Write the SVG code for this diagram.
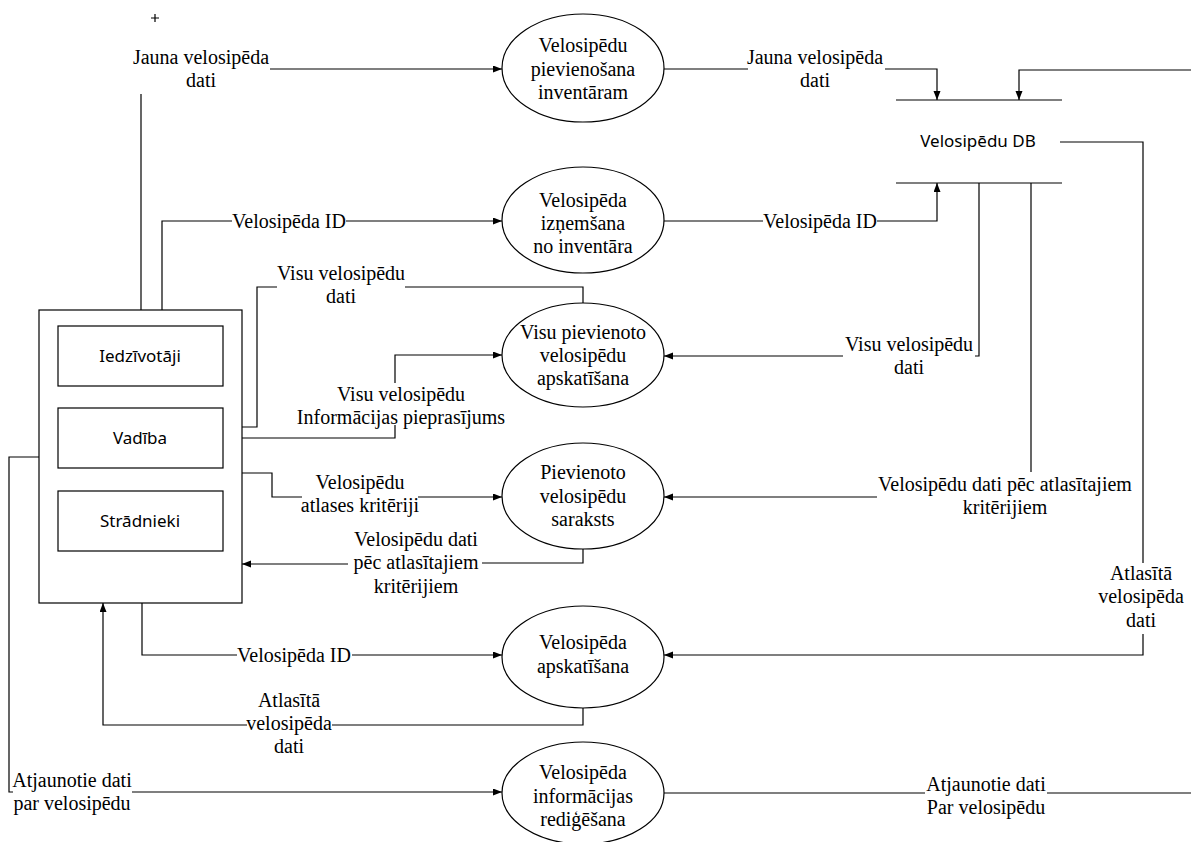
<svg xmlns="http://www.w3.org/2000/svg" width="1191" height="842" viewBox="0 0 1191 842">
<style>
.bg{fill:#fff}
.ln{fill:none;stroke:#000;stroke-width:1.2}
.el{fill:#fff;stroke:#000;stroke-width:1.2}
.bx{fill:#fff;stroke:#000;stroke-width:1.2}
.t{font-family:"Liberation Serif","Times New Roman",serif;font-size:20px;fill:#000;text-anchor:middle}
.s{font-family:"Noto Sans","Open Sans",sans-serif;font-size:17px;fill:#000;text-anchor:middle}
</style>
<defs>
<marker id="ar" markerUnits="userSpaceOnUse" markerWidth="10" markerHeight="8" refX="9" refY="3.5" orient="auto">
<path d="M0,0 L9,3.5 L0,7 z" fill="#000"/>
</marker>
</defs>
<rect class="bg" x="0" y="0" width="1191" height="842"/>
<path class="ln" d="M151,18 H159 M155,14 V22"/>

<g id="connectors">
<path class="ln" d="M141,310 V94"/>
<path class="ln" d="M270,69 H502" marker-end="url(#ar)"/>
<path class="ln" d="M664,69 H748"/>
<path class="ln" d="M885,69 H937 V100" marker-end="url(#ar)"/>
<path class="ln" d="M1191,70 H1019 V100" marker-end="url(#ar)"/>
<path class="ln" d="M162,310 V221 H232"/>
<path class="ln" d="M346,221 H502" marker-end="url(#ar)"/>
<path class="ln" d="M664,221 H763"/>
<path class="ln" d="M877,221 H937 V183" marker-end="url(#ar)"/>
<path class="ln" d="M583,303 V287 H405"/>
<path class="ln" d="M277,287 H257 V427 H223" marker-end="url(#ar)"/>
<path class="ln" d="M223,438 H395 V425"/>
<path class="ln" d="M395,383 V355 H502" marker-end="url(#ar)"/>
<path class="ln" d="M979,183 V356 H975"/>
<path class="ln" d="M843,356 H664" marker-end="url(#ar)"/>
<path class="ln" d="M242,473 H272 V497 H302"/>
<path class="ln" d="M418,497 H502" marker-end="url(#ar)"/>
<path class="ln" d="M1031,183 V472"/>
<path class="ln" d="M877,497 H664" marker-end="url(#ar)"/>
<path class="ln" d="M583,549 V563 H482"/>
<path class="ln" d="M348,564 H242" marker-end="url(#ar)"/>
<path class="ln" d="M1060,142 H1143 V563"/>
<path class="ln" d="M1143,634 V655 H664" marker-end="url(#ar)"/>
<path class="ln" d="M142,603 V655 H237"/>
<path class="ln" d="M352,655 H502" marker-end="url(#ar)"/>
<path class="ln" d="M583,708 V725 H332"/>
<path class="ln" d="M247,725 H103 V603" marker-end="url(#ar)"/>
<path class="ln" d="M39,457 H9 V792 H13"/>
<path class="ln" d="M132,792 H502" marker-end="url(#ar)"/>
<path class="ln" d="M664,793 H925"/>
<path class="ln" d="M1047,793 H1191"/>
</g>

<g id="labels">
<text class="t" x="201" y="64">Jauna velosipēda</text>
<text class="t" x="201" y="87">dati</text>
<text class="t" x="815" y="64">Jauna velosipēda</text>
<text class="t" x="815" y="87">dati</text>
<text class="t" x="289" y="228">Velosipēda ID</text>
<text class="t" x="820" y="228">Velosipēda ID</text>
<text class="t" x="341" y="280">Visu velosipēdu</text>
<text class="t" x="341" y="303">dati</text>
<text class="t" x="401" y="401">Visu velosipēdu</text>
<text class="t" x="401" y="424">Informācijas pieprasījums</text>
<text class="t" x="909" y="351">Visu velosipēdu</text>
<text class="t" x="909" y="374">dati</text>
<text class="t" x="360" y="489">Velosipēdu</text>
<text class="t" x="360" y="512">atlases kritēriji</text>
<text class="t" x="1005" y="491">Velosipēdu dati pēc atlasītajiem</text>
<text class="t" x="1005" y="514">kritērijiem</text>
<text class="t" x="416" y="546">Velosipēdu dati</text>
<text class="t" x="416" y="569">pēc atlasītajiem</text>
<text class="t" x="416" y="593">kritērijiem</text>
<text class="t" x="1141" y="580">Atlasītā</text>
<text class="t" x="1141" y="603">velosipēda</text>
<text class="t" x="1141" y="627">dati</text>
<text class="t" x="294" y="662">Velosipēda ID</text>
<text class="t" x="289" y="707">Atlasītā</text>
<text class="t" x="289" y="730">velosipēda</text>
<text class="t" x="289" y="753">dati</text>
<text class="t" x="72" y="787">Atjaunotie dati</text>
<text class="t" x="72" y="810">par velosipēdu</text>
<text class="t" x="986" y="791">Atjaunotie dati</text>
<text class="t" x="986" y="814">Par velosipēdu</text>
</g>

<g id="store-db">
<path class="ln" d="M896,100 H1062 M896,183 H1062"/>
<text class="s" x="978" y="147">Velosipēdu DB</text>
</g>

<g id="entity">
<rect class="bx" x="39" y="310" width="203" height="293"/>
<g id="iedzivotaji"><rect class="bx" x="58" y="326" width="165" height="60"/><text class="s" x="140" y="362">Iedzīvotāji</text></g>
<g id="vadiba"><rect class="bx" x="58" y="408" width="165" height="60"/><text class="s" x="140" y="444">Vadība</text></g>
<g id="stradnieki"><rect class="bx" x="58" y="491" width="165" height="60"/><text class="s" x="140" y="527">Strādnieki</text></g>
</g>

<g id="p1"><ellipse class="el" cx="583" cy="68" rx="81" ry="54"/>
<text class="t" x="583" y="52">Velosipēdu</text><text class="t" x="583" y="76">pievienošana</text><text class="t" x="583" y="99">inventāram</text></g>
<g id="p2"><ellipse class="el" cx="583" cy="220" rx="81" ry="53"/>
<text class="t" x="583" y="207">Velosipēda</text><text class="t" x="583" y="230">izņemšana</text><text class="t" x="583" y="253">no inventāra</text></g>
<g id="p3"><ellipse class="el" cx="583" cy="355" rx="81" ry="52"/>
<text class="t" x="583" y="339">Visu pievienoto</text><text class="t" x="583" y="362">velosipēdu</text><text class="t" x="583" y="385">apskatīšana</text></g>
<g id="p4"><ellipse class="el" cx="583" cy="496" rx="81" ry="53"/>
<text class="t" x="583" y="479">Pievienoto</text><text class="t" x="583" y="503">velosipēdu</text><text class="t" x="583" y="526">saraksts</text></g>
<g id="p5"><ellipse class="el" cx="583" cy="657" rx="81" ry="51"/>
<text class="t" x="583" y="649">Velosipēda</text><text class="t" x="583" y="673">apskatīšana</text></g>
<g id="p6"><ellipse class="el" cx="583" cy="793" rx="81" ry="51"/>
<text class="t" x="583" y="779">Velosipēda</text><text class="t" x="583" y="803">informācijas</text><text class="t" x="583" y="826">rediģēšana</text></g>
</svg>
